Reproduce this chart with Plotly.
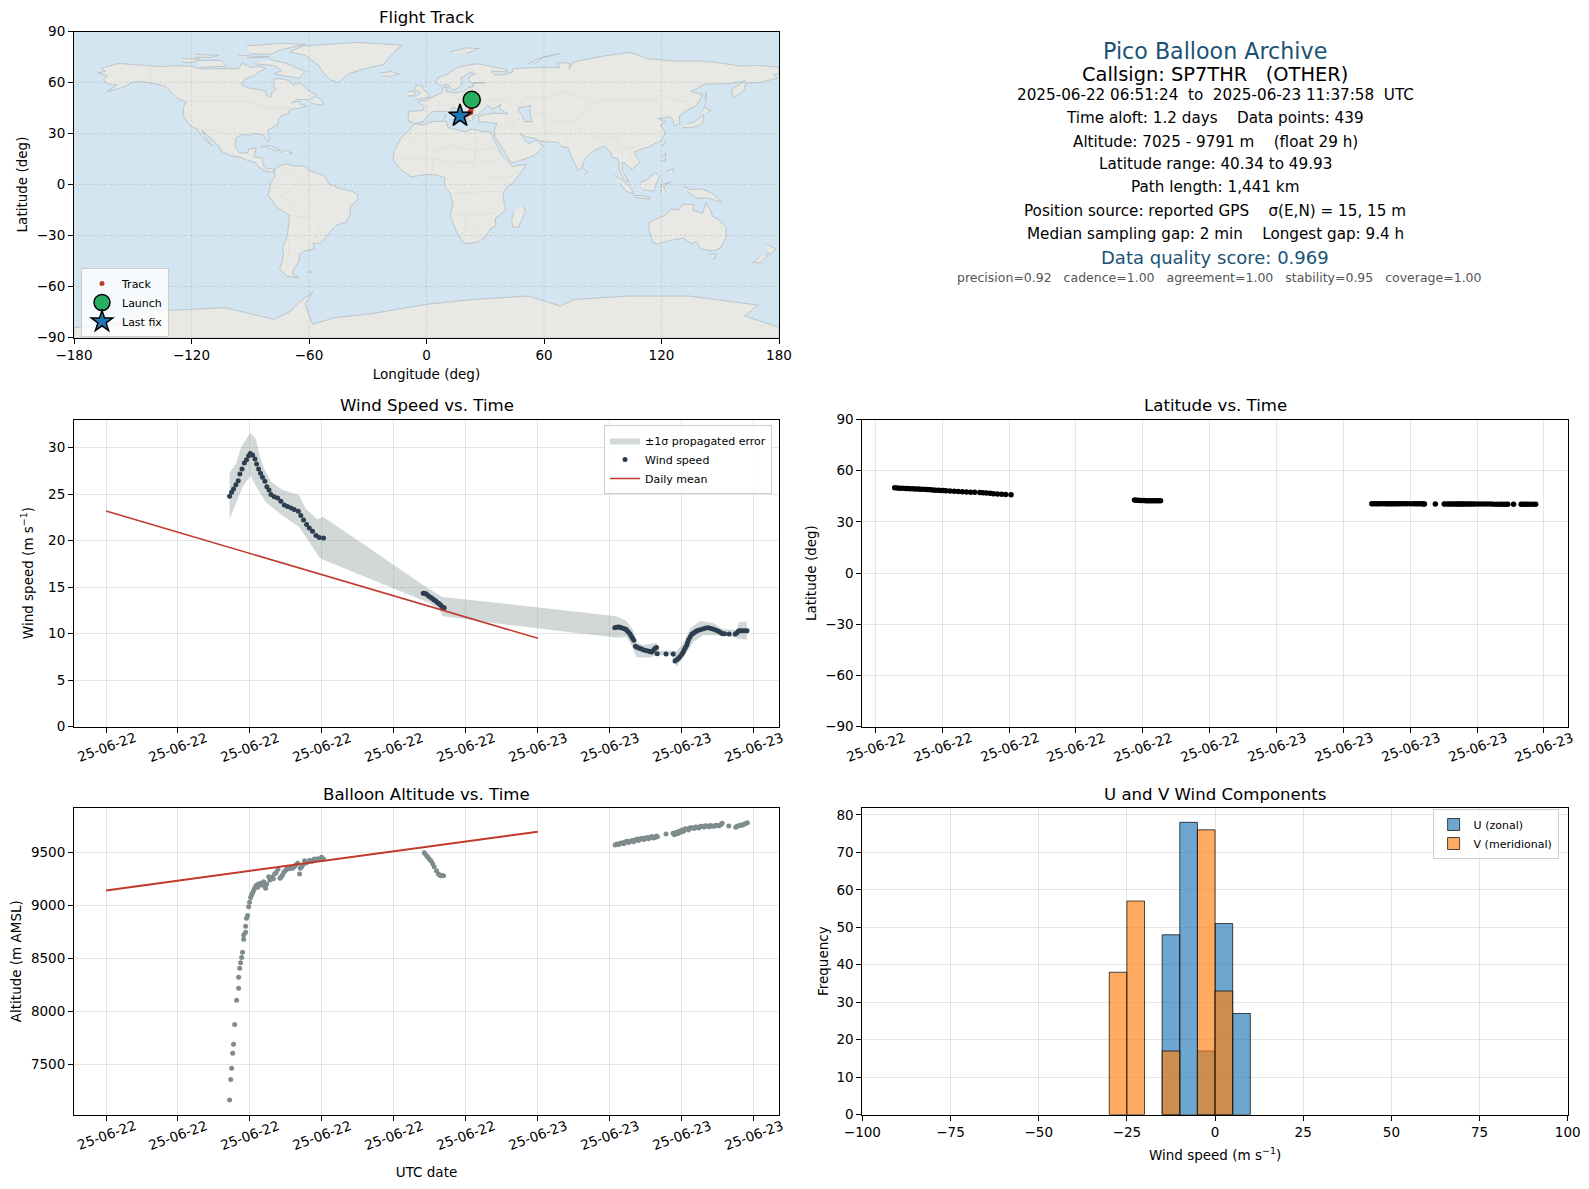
import pandas as pd
import plotly.graph_objects as go

W = 1589
H = 1189
FONT = "DejaVu Sans"
START = pd.Timestamp("2025-06-22")

# times are hours after 2025-06-22 00:00 UTC
wind_hours = [6.87, 6.98, 7.09, 7.22, 7.35, 7.44, 7.56, 7.69, 7.81, 7.93, 8.02, 8.15, 8.28, 8.37, 8.48, 8.59, 8.70, 8.83, 8.94, 9.06, 9.17, 9.35, 9.54, 9.72, 9.91, 10.09, 10.28, 10.46, 10.69, 10.83, 10.98, 11.15, 11.30, 11.48, 11.67, 11.85, 12.09,
              17.63, 17.70, 17.78, 17.87, 17.96, 18.06, 18.15, 18.24, 18.33, 18.42, 18.52, 18.61, 18.70, 18.80,
              28.28, 28.37, 28.47, 28.56, 28.65, 28.77, 28.89, 28.96, 29.04, 29.12, 29.19, 29.27, 29.34, 29.43, 29.52, 29.62, 29.74, 29.86, 30.0, 30.14, 30.24, 30.33, 30.42, 30.51, 30.6, 30.64, 31.13, 31.53, 31.63, 31.72, 31.81, 31.9, 32.0, 32.07, 32.13, 32.2, 32.28, 32.33, 32.39, 32.47, 32.56, 32.65, 32.74, 32.83, 32.93, 33.07, 33.21, 33.35, 33.49, 33.63, 33.77, 33.91, 34.05, 34.16, 34.27, 34.38, 34.64, 34.98, 35.07, 35.16, 35.25, 35.35, 35.49, 35.63]
wind_speed = [24.78, 25.2, 25.56, 26.03, 26.46, 27.17, 27.71, 28.35, 28.71, 29.14, 29.39, 29.21, 28.78, 28.25, 27.71, 27.25, 26.82, 26.39, 25.81, 25.46, 24.96, 24.74, 24.6, 24.24, 23.85, 23.67, 23.52, 23.35, 23.17, 22.7, 22.24, 21.74, 21.38, 21.02, 20.55, 20.34, 20.30,
              14.36, 14.33, 14.29, 14.16, 14.01, 13.9, 13.76, 13.63, 13.5, 13.36, 13.22, 13.05, 12.86, 12.8,
              10.64, 10.7, 10.72, 10.68, 10.64, 10.56, 10.47, 10.33, 10.18, 9.98, 9.75, 9.5, 9.28, 8.64, 8.55, 8.46, 8.37, 8.28, 8.2, 8.14, 8.08, 8.03, 8.2, 8.39, 8.5, 7.85, 7.82, 7.82, 7.07, 7.18, 7.32, 7.52, 7.75, 7.98, 8.21, 8.47, 8.75, 9.05, 9.36, 9.65, 9.93, 10.05, 10.18, 10.28, 10.36, 10.45, 10.54, 10.6, 10.64, 10.55, 10.47, 10.36, 10.25, 10.12, 10.0, 9.98, 9.96, 9.96, 10.1, 10.29, 10.3, 10.32, 10.32, 10.32]
latitude = [49.93, 49.9, 49.75, 49.7, 49.6, 49.55, 49.45, 49.4, 49.3, 49.25, 49.15, 49.1, 49.0, 48.95, 48.8, 48.75, 48.6, 48.55, 48.4, 48.35, 48.25, 48.1, 48.0, 47.85, 47.7, 47.55, 47.4, 47.3, 47.15, 47.0, 46.85, 46.7, 46.55, 46.4, 46.25, 46.1, 45.95,
            42.8, 42.7, 42.6, 42.55, 42.5, 42.5, 42.45, 42.45, 42.4, 42.4, 42.4, 42.4, 42.4, 42.4,
            40.66, 40.66, 40.65, 40.65, 40.64, 40.64, 40.63, 40.63, 40.62, 40.62, 40.61, 40.61, 40.6, 40.6, 40.59, 40.59, 40.58, 40.58, 40.57, 40.57, 40.56, 40.56, 40.55, 40.55, 40.54, 40.54, 40.52, 40.5, 40.5, 40.5, 40.49, 40.49, 40.48, 40.48, 40.47, 40.47, 40.46, 40.46, 40.45, 40.45, 40.44, 40.44, 40.43, 40.43, 40.42, 40.42, 40.41, 40.41, 40.4, 40.4, 40.39, 40.39, 40.38, 40.38, 40.37, 40.37, 40.36, 40.36, 40.35, 40.35, 40.35, 40.34, 40.34, 40.34]

band_upper_hours = [6.87, 7.22, 7.5, 7.78, 8.02, 8.33, 8.52, 8.80, 9.17, 9.81, 10.74, 11.11, 11.76, 12.07, 17.96, 18.70, 21.85, 28.37, 28.93, 29.30, 29.49, 29.86, 30.6, 30.7, 31.72, 32.09, 32.47, 33.02, 33.77, 34.23, 35.07, 35.16, 35.63]
band_upper = [27.35, 28.25, 30.04, 30.93, 31.61, 30.93, 29.32, 27.71, 26.35, 25.49, 24.85, 23.42, 22.27, 22.59, 14.8, 13.94, 13.29, 11.86, 11.36, 10.36, 9.1, 8.75, 9.03, 8.2, 8.14, 8.93, 10.54, 11.36, 11.14, 10.54, 10.36, 11.22, 11.32]
band_lower_hours = [35.63, 35.16, 34.88, 33.95, 33.2, 32.65, 32.28, 31.72, 31.53, 31.44, 30.6, 30.23, 29.49, 29.21, 28.93, 28.37, 21.86, 18.70, 18.52, 17.96, 12.04, 11.85, 11.30, 10.74, 9.81, 8.89, 8.43, 8.02, 7.59, 7.22, 6.87]
band_lower = [9.36, 9.46, 9.64, 9.82, 9.82, 9.1, 8.03, 6.42, 7.14, 7.67, 7.67, 7.42, 7.5, 8.75, 9.64, 9.57, 11.07, 11.9, 12.68, 13.29, 17.98, 18.23, 19.84, 21.45, 22.7, 24.13, 25.56, 26.99, 25.74, 23.95, 22.34]

mean_hours = [0, 24]
mean_speed = [23.2, 9.5]
mean_altitude = [9140, 9695]

alt_hours = [6.87, 6.93, 6.98, 7.04, 7.09, 7.15, 7.26, 7.37, 7.37, 7.43, 7.48, 7.54, 7.59, 7.65, 7.65, 7.76, 7.76, 7.81, 7.87, 7.93, 7.98, 8.04, 8.09, 8.15, 8.20, 8.26, 8.33, 8.38, 8.43, 8.48, 8.55, 8.61, 8.70, 8.76, 8.87, 8.93, 9.04, 9.11, 9.22, 9.30, 9.37, 9.46, 9.56, 9.67, 9.74, 9.81, 9.88, 9.96, 10.04, 10.11, 10.19, 10.28, 10.37, 10.46, 10.55, 10.65, 10.76, 10.80, 10.87, 10.93, 11.04, 11.12, 11.20, 11.33, 11.45, 11.57, 11.76, 11.88, 11.98, 12.09,
             17.69, 17.78, 17.87, 17.96, 18.06, 18.15, 18.24, 18.37, 18.48, 18.55, 18.61, 18.68, 18.76,
             28.3, 28.4, 28.5, 28.58, 28.7, 28.78, 28.86, 28.95, 29.05, 29.14, 29.25, 29.33, 29.42, 29.52, 29.6, 29.69, 29.8, 29.9, 29.97, 30.08, 30.16, 30.25, 30.35, 30.43, 30.52, 30.6, 30.65, 31.13, 31.52, 31.6, 31.7, 31.78, 31.87, 31.95, 32.02, 32.1, 32.2, 32.3, 32.38, 32.47, 32.57, 32.68, 32.77, 32.85, 32.95, 33.05, 33.13, 33.25, 33.33, 33.41, 33.52, 33.6, 33.69, 33.8, 33.9, 33.97, 34.08, 34.18, 34.25, 34.62, 35.0, 35.08, 35.18, 35.27, 35.37, 35.46, 35.55, 35.65]
altitude = [7164, 7358, 7462, 7604, 7689, 7877, 8104, 8217, 8321, 8406, 8459, 8509, 8557, 8679, 8720, 8745, 8802, 8877, 8903, 8987, 9028, 9075, 9097, 9119, 9138, 9160, 9182, 9190, 9170, 9201, 9195, 9208, 9189, 9223, 9160, 9201, 9270, 9239, 9264, 9250, 9296, 9310, 9340, 9255, 9270, 9286, 9310, 9327, 9340, 9349, 9345, 9355, 9350, 9365, 9380, 9396, 9296, 9349, 9365, 9381, 9421, 9400, 9409, 9425, 9415, 9437, 9440, 9435, 9453, 9437,
            9497, 9478, 9459, 9440, 9421, 9395, 9365, 9327, 9296, 9285, 9280, 9282, 9280,
            9569, 9578, 9575, 9585, 9590, 9582, 9597, 9605, 9592, 9604, 9612, 9600, 9616, 9625, 9612, 9626, 9632, 9622, 9632, 9640, 9628, 9642, 9650, 9635, 9640, 9655, 9648, 9673, 9679, 9665, 9689, 9675, 9700, 9690, 9711, 9700, 9722, 9720, 9710, 9732, 9733, 9725, 9738, 9736, 9730, 9745, 9745, 9740, 9750, 9748, 9742, 9752, 9748, 9745, 9755, 9752, 9750, 9762, 9774, 9748, 9736, 9745, 9750, 9758, 9756, 9764, 9772, 9780]

track_lon = [23.1, 23.0, 22.9, 22.8, 22.7, 22.6, 22.0, 21.0, 20.0, 19.0, 18.0, 17.1]
track_lat = [49.9, 48.0, 46.0, 45.0, 43.5, 42.4, 42.0, 41.5, 41.0, 40.7, 40.5, 40.4]

hist_bin_width = 5
u_bins = [-12.5, -7.5, -2.5, 2.5, 7.5]
u_counts = [48, 78, 17, 51, 27]
v_bins = [-27.5, -22.5, -12.5, -2.5, 2.5]
v_counts = [38, 57, 17, 76, 33]

wind_tick_hours = [0, 4, 8, 12, 16, 20, 24, 28, 32, 36]
lat_tick_hours = [6, 9, 12, 15, 18, 21, 24, 27, 30, 33, 36]
map_lon_ticks = [-180, -120, -60, 0, 60, 120, 180]
map_lat_ticks = [-90, -60, -30, 0, 30, 60, 90]

info_lines = [
    ("Pico Balloon Archive", 22.2, "#1a5276", 1215, 51),
    ("Callsign: SP7THR   (OTHER)", 19.4, "black", 1215, 74),
    ("2025-06-22 06:51:24  to  2025-06-23 11:37:58  UTC", 15.2, "black", 1215, 95),
    ("Time aloft: 1.2 days    Data points: 439", 15.2, "black", 1215, 118),
    ("Altitude: 7025 - 9791 m    (float 29 h)", 15.2, "black", 1215, 141.5),
    ("Latitude range: 40.34 to 49.93", 15.2, "black", 1215, 163.5),
    ("Path length: 1,441 km", 15.2, "black", 1215, 187),
    ("Position source: reported GPS    \u03c3(E,N) = 15, 15 m", 15.2, "black", 1215, 210.5),
    ("Median sampling gap: 2 min    Longest gap: 9.4 h", 15.2, "black", 1215, 233.5),
    ("Data quality score: 0.969", 18, "#1a5276", 1215, 257.4),
    ("precision=0.92   cadence=1.00   agreement=1.00   stability=0.95   coverage=1.00", 12.5, "#555555", 1219, 277.7),
]

# rough coastlines, (lon, lat)
north_america = [(-168, 65.6), (-164, 66.5), (-166, 68.3), (-163, 69.5), (-157, 71.2), (-150, 70.5), (-141, 69.7), (-135, 69.3), (-128, 70), (-120, 69.5), (-115, 68), (-108, 68), (-100, 68), (-96, 68.2), (-94, 71.5), (-90, 69), (-85, 69.5), (-82, 68), (-86, 66.2), (-88, 64), (-93, 62), (-94.5, 59), (-92, 57), (-85, 55.3), (-82, 55), (-82, 52.8), (-79.5, 51.3), (-79, 54), (-77, 56), (-78, 58.5), (-78, 62.3), (-73, 62), (-70, 61), (-68, 58.5), (-65, 60), (-62, 57.5), (-60, 55), (-56, 52.5), (-60, 50), (-66, 50), (-69, 48), (-65, 49), (-64.5, 47.5), (-61, 46), (-66, 44.5), (-67, 45), (-70, 43.5), (-70.5, 41.7), (-74, 40.5), (-75.5, 38), (-76, 35), (-78, 34), (-81, 32), (-80.3, 27), (-80.5, 25.2), (-82, 26.5), (-83, 29), (-85, 29.7), (-89, 30), (-90, 29), (-94, 29.5), (-97.3, 27.5), (-97.7, 22.5), (-95.5, 18.7), (-91.5, 18.5), (-90.5, 21), (-87, 21.5), (-88, 16), (-84, 15.8), (-83.5, 11.5), (-81.5, 9), (-79.5, 9.5), (-77.5, 8.7), (-78.2, 7.5), (-80.5, 7.3), (-83, 8.3), (-85.5, 10), (-87.5, 13), (-92, 14.5), (-95, 16), (-100, 17), (-105, 19.5), (-105.5, 22), (-109, 25.7), (-112.5, 30), (-114.7, 31.5), (-112.5, 27), (-109.5, 23), (-112, 25), (-115, 28.5), (-117, 32.5), (-120.5, 34.5), (-122.5, 37.5), (-124.3, 40.5), (-124, 46), (-122.7, 48.5), (-127, 50.5), (-130.5, 54.5), (-133, 57.5), (-138, 59), (-146, 60.8), (-151, 60), (-153, 58), (-158, 56), (-163, 54.8), (-158, 58.5), (-162, 59), (-165, 61.5), (-163, 64), (-168, 65.6)]
south_america = [(-77.5, 8.7), (-75, 11), (-72, 12), (-68, 11), (-62, 10.7), (-60, 8.5), (-52, 5), (-50, 0.5), (-44, -2.5), (-38, -4), (-35, -6), (-35, -9), (-39, -13), (-39, -18), (-41, -22), (-46, -24), (-48.5, -27), (-52, -32), (-54, -34.5), (-58, -34.5), (-57, -38), (-62, -39), (-65, -41), (-65, -45), (-68, -50), (-68.5, -52.5), (-65, -55), (-71, -54), (-75, -50), (-73, -42), (-73.5, -37), (-71, -30), (-70, -18), (-76, -14), (-81, -6), (-80, -2), (-80, 1), (-77.5, 4), (-77.5, 8.7)]
africa = [(-6, 35.8), (-2, 35), (3, 37), (10, 37.3), (11, 33.5), (15, 32.3), (20, 31), (23, 32.7), (29, 31), (32.5, 31.2), (34, 28), (34, 27), (37, 21), (38, 18), (43, 12), (44, 10.5), (51, 12), (49, 8), (45, 2), (40, -3), (39, -7), (40.5, -15), (35, -20), (35.5, -24), (32.8, -26), (30, -31), (26, -34), (20, -34.8), (18, -33), (15, -27), (12, -18), (13.5, -12), (12, -5), (9, -1), (9.5, 4), (5, 5.5), (1, 6), (-4, 5), (-8, 4.5), (-13, 8.5), (-17, 14.7), (-16.5, 20), (-13, 27.5), (-9.5, 31), (-6, 35.8)]
eurasia = [(-9, 37), (-9.5, 39), (-9, 43), (-2, 43.5), (-1, 46), (-4.5, 48.5), (-1, 49.5), (2, 51), (4, 52), (8, 54), (8.5, 57), (10.5, 57.5), (10, 54.5), (14, 54), (19, 54.5), (21, 57), (24, 57.5), (23.5, 59.3), (30, 60), (23, 60), (21.5, 61), (21.5, 63), (25, 65), (22, 65.8), (17.5, 62.5), (18.5, 60), (16.5, 57), (14, 55.5), (12.7, 56), (11, 59), (7, 58), (5, 60), (5.5, 62.5), (11, 65), (15, 68.5), (20, 70), (26, 71), (31, 70), (41, 67.5), (41, 66.3), (33, 66.7), (35, 64.3), (40, 64.7), (44, 66.3), (44, 68.2), (54, 68.5), (60, 69), (68, 68.7), (67, 71.5), (73, 71.5), (73, 68), (75, 72), (81, 73.5), (90, 75.5), (104, 77.7), (113, 74), (128, 72.5), (140, 72.7), (150, 71.5), (160, 69.7), (170, 70), (180, 69), (180, 65), (177, 64.5), (179, 62.5), (170, 60), (163, 59.7), (162, 55), (156.5, 51), (155.7, 56), (163, 61), (155, 59.3), (142, 59), (135, 54.7), (141, 53), (138, 46.5), (132, 43), (129, 40), (129.5, 36), (126.5, 34.5), (126, 37.5), (124.5, 40), (121, 39), (118, 39), (122, 37), (119.5, 35), (122, 30.5), (120, 26), (114, 22.3), (110, 21), (106, 19), (109, 13), (105, 9), (103, 11), (100, 13.5), (100, 8), (103.5, 1.5), (101, 3), (98.5, 8), (98, 15), (95, 16), (94, 19), (91, 22.5), (87, 21), (82, 16.5), (80, 13), (79.5, 10), (77.5, 8), (73, 19), (72.5, 21.5), (69, 22.3), (67, 25), (61, 25), (57, 26), (56, 27), (51, 28), (48, 30), (50, 26.5), (52, 24), (56, 26), (59.8, 22.5), (55, 17), (45, 13), (43, 13), (39, 21), (35, 28), (34.5, 31.5), (36, 36), (30, 36.5), (27, 37), (26.5, 40), (29, 41), (35, 42), (41.5, 41.5), (37, 45), (38, 47), (34, 44.5), (31, 46.5), (28, 43), (26, 40.7), (24, 40.5), (23.5, 38), (22, 37), (19.5, 41), (19, 42.5), (13.5, 45.5), (12.5, 44), (18.5, 40.2), (16, 38), (15.8, 40), (10.5, 43), (6, 43), (3, 43), (0, 39.5), (-2, 36.8), (-5.5, 36), (-9, 37)]
australia = [(114, -22), (113.5, -26), (115.5, -34), (118, -35), (124, -33), (131, -31.5), (135.5, -34.8), (138, -33.5), (140, -38), (146.5, -39), (150, -37.5), (153, -31), (153, -25), (149, -20.5), (146, -18.5), (145, -15), (142.5, -11), (141, -17), (136, -15), (136.5, -12), (131, -11.5), (129, -15), (125, -14.5), (122, -18), (114, -22)]
antarctica = [(-180, -84.2), (-155, -82), (-145, -76), (-140.5, -74.4), (-119, -73.4), (-103, -72.4), (-78, -79.3), (-70, -75), (-65.4, -69.5), (-58, -63.3), (-62, -70), (-58.3, -82.2), (-46.6, -78.3), (-28, -76), (0, -70.5), (24, -67.6), (52, -65.6), (68.5, -71.5), (75.5, -67.6), (103.7, -65.6), (134, -65.6), (169.5, -71), (162.4, -77.3), (180, -84), (180, -90), (-180, -90), (-180, -84.2)]
greenland = [(-70, 78), (-63, 81.5), (-50, 82.5), (-35, 83.6), (-12.6, 82), (-18, 76), (-22, 70.5), (-32, 68), (-40, 65), (-45, 60), (-49, 61.5), (-53, 66), (-55, 70), (-62, 76), (-70, 78)]
islands = [
    [(-80, 73.5), (-72, 71.5), (-67, 69), (-62, 66.5), (-65, 62.5), (-72, 64), (-78, 65), (-74, 67), (-78, 70), (-88, 71)],
    [(-117, 73), (-105, 73), (-102, 69.5), (-115, 69)],
    [(-125, 74), (-116, 74), (-120, 71.5), (-125, 72)],
    [(-90, 77), (-80, 76.5), (-75, 79), (-62, 82.5), (-75, 83), (-92, 81.5)],
    [(-96, 76), (-80, 75), (-92, 74.5)],
    [(-118, 76.5), (-106, 76), (-110, 74.8), (-118, 75)],
    [(-59, 47.7), (-53, 46.7), (-53, 49), (-56, 51.5)],
    [(-85, 22), (-80, 23), (-74.2, 20.2), (-78, 20), (-82, 22.2)],
    [(-74.3, 18.5), (-72, 20), (-68.5, 18.5), (-71, 18)],
    [(-24, 65.5), (-18, 66.5), (-14, 65), (-18.5, 63.5), (-22.5, 64)],
    [(-5.5, 50), (1.5, 51.3), (1.5, 53), (-2, 56), (-2, 57.7), (-5, 58.5), (-6, 56), (-3, 54), (-5, 52)],
    [(-10, 52), (-6, 52.2), (-6, 55), (-10, 54.5)],
    [(12, 78), (20, 80.3), (27, 80), (20, 77)],
    [(52, 71), (57, 74), (68, 77), (60, 75), (55, 71)],
    [(49.5, -12), (50.5, -16), (47, -25), (44, -25), (43.5, -21), (44.5, -16)],
    [(80, 9.5), (82, 7), (80.5, 6)],
    [(130.8, 33.5), (135.5, 33.5), (140, 35), (141.5, 38), (141.5, 41), (140, 40), (137, 37), (133, 35.5)],
    [(140, 42), (142, 45.5), (145, 43.5), (143, 42)],
    [(142, 46), (143, 50), (142.7, 54), (142, 50)],
    [(120.5, 22.5), (122, 25), (121, 25)],
    [(120.5, 16), (122, 18.5), (122, 14), (120.5, 14)],
    [(122, 7.5), (126, 9.5), (126, 6.5)],
    [(109, 1), (113, 3), (117, 7), (119, 5), (117.5, 1), (116, -4), (110.5, -3)],
    [(95.5, 5.5), (100, 2.5), (104, -1.5), (106, -5.8), (102, -4), (98.5, 1)],
    [(105.5, -6.5), (110, -6.5), (114.5, -7.7), (114, -8.7), (106, -7.5)],
    [(119.5, -5.5), (120, 0), (124.5, 1.3), (121, -1), (122.5, -5)],
    [(131, -1), (135, -3), (141, -2.6), (147, -6), (150.5, -10.5), (144, -8), (138, -8), (133, -4)],
    [(144.5, -41), (148, -41), (147, -43.5), (146, -43.5)],
    [(173, -35), (178.5, -37.7), (175, -41.5), (174, -39)],
    [(172.7, -40.7), (174, -42), (170.5, -46), (166.5, -46), (170, -43)],
    [(9, 41), (9.7, 41), (9.5, 39), (8.5, 39)],
    [(12.5, 38), (15.5, 38), (15, 36.7)],
    [(-61, -51.5), (-58, -51.5), (-59, -52.3)],
]
caspian = [(47, 45), (53, 46.5), (53, 40), (54, 37), (50, 37), (49, 40.5), (47, 43), (47, 45)]
borders = [
    [(-123, 49), (-95, 49), (-88, 48), (-82, 45), (-75, 45), (-67, 45)],
    [(-141, 69.7), (-141, 60)],
    [(-117, 32.5), (-106, 31.7), (-97.3, 26)],
    [(-92, 14.5), (-91, 17.5), (-88, 18)],
    [(-70, -18), (-69, -11), (-74, -7), (-70, -4), (-67, 1), (-60, 5), (-60, 8)],
    [(-70, -18), (-58, -20), (-54, -26), (-57, -30), (-54, -33)],
    [(-71, -30), (-70, -40), (-72, -50)],
    [(-80, -3), (-75, -1), (-70, -4)],
    [(-75, 11), (-72, 7), (-67, 6)],
    [(-13, 27.5), (-8, 27), (3, 19), (12, 23), (25, 20), (36, 22)],
    [(25, 32), (25, 20), (24, 10), (30, 4), (34, 4), (42, 4), (48, 8)],
    [(-16, 16), (-5, 15), (3, 15), (14, 13), (24, 13), (36, 14), (38, 18)],
    [(3, 6), (3, 15)],
    [(9, 4), (14, 13)],
    [(12, -5), (22, -5), (30, -4), (40, -4)],
    [(12, -17), (24, -18), (35, -17)],
    [(20, -28), (20, -18)],
    [(30, -22), (25, -25), (18, -29)],
    [(28, 49), (40, 50), (48, 46), (50, 51), (61, 51), (70, 55), (80, 51), (87, 49), (98, 50), (107, 50), (117, 50), (120, 53), (127, 50), (135, 48), (131, 43)],
    [(53, 41), (60, 42), (66, 37), (75, 37), (80, 42), (87, 49)],
    [(75, 37), (78, 32), (88, 27), (97, 28), (98, 23), (102, 21), (107, 22)],
    [(62, 25), (61, 30), (61, 36), (66, 37)],
    [(71, 24), (74, 32), (75, 37)],
    [(88, 27), (92, 22)],
    [(44, 37), (46, 33), (48, 30)],
    [(36, 33), (42, 37), (44, 37), (48, 39)],
    [(37, 30), (46, 29), (48, 29)],
    [(98, 23), (100, 20), (100, 13)],
    [(102, 21), (105, 15), (107, 11)],
    [(24, 58), (28, 56), (24, 51), (30, 46)],
    [(14, 54), (15, 51), (23, 49), (28, 46), (28, 43)],
    [(6, 49), (8, 47.5), (13, 47), (17, 48), (23, 49)],
    [(-2, 43.5), (3, 43)],
    [(2, 51), (6, 49), (7, 44)],
    [(20, 69), (24, 66), (30, 62), (30, 60)],
]


def to_time(hours):
    return START + pd.to_timedelta(hours, unit="h")


def x_dom(left, right):
    return [left / W, right / W]


def y_dom(top, bottom):
    return [1 - bottom / H, 1 - top / H]


def outline_xy(shapes):
    xs = []
    ys = []
    for shape in shapes:
        for lon, lat in shape:
            xs.append(lon)
            ys.append(lat)
        xs.append(None)
        ys.append(None)
    return xs, ys


fig = go.Figure()

# flight track panel
land_x, land_y = outline_xy([north_america, south_america, africa, eurasia, australia, antarctica, greenland] + islands)
fig.add_trace(go.Scatter(x=land_x, y=land_y, mode="lines", fill="toself", fillcolor="#e8e8e4",
                         line=dict(color="#b4bcc2", width=0.8), showlegend=False, hoverinfo="skip", xaxis="x", yaxis="y"))
sea_x, sea_y = outline_xy([caspian])
fig.add_trace(go.Scatter(x=sea_x, y=sea_y, mode="lines", fill="toself", fillcolor="#d2e5f1",
                         line=dict(color="#b4bcc2", width=0.8), showlegend=False, hoverinfo="skip", xaxis="x", yaxis="y"))
border_x, border_y = outline_xy(borders)
fig.add_trace(go.Scatter(x=border_x, y=border_y, mode="lines", line=dict(color="#dcdcd8", width=0.7),
                         showlegend=False, hoverinfo="skip", xaxis="x", yaxis="y"))
# grid sits over the land here
grid_x = []
grid_y = []
for lon in map_lon_ticks[1:-1]:
    grid_x += [lon, lon, None]
    grid_y += [map_lat_ticks[0], map_lat_ticks[-1], None]
for lat in map_lat_ticks[1:-1]:
    grid_x += [map_lon_ticks[0], map_lon_ticks[-1], None]
    grid_y += [lat, lat, None]
fig.add_trace(go.Scatter(x=grid_x, y=grid_y, mode="lines", line=dict(color="rgba(120,120,120,0.22)", width=0.8, dash="3px,2px"),
                         showlegend=False, hoverinfo="skip", xaxis="x", yaxis="y"))
fig.add_trace(go.Scatter(x=track_lon, y=track_lat, mode="markers", name="Track", marker=dict(color="#c0392b", size=5),
                         legend="legend", xaxis="x", yaxis="y"))
fig.add_trace(go.Scatter(x=track_lon[:1], y=track_lat[:1], mode="markers", name="Launch",
                         marker=dict(color="#27ae60", size=17, line=dict(color="black", width=1.5)), legend="legend", xaxis="x", yaxis="y"))
fig.add_trace(go.Scatter(x=track_lon[-1:], y=track_lat[-1:], mode="markers", name="Last fix",
                         marker=dict(color="#1f77b4", size=17, symbol="star", line=dict(color="black", width=1.5)), legend="legend", xaxis="x", yaxis="y"))

# wind speed panel
band_hours = band_upper_hours + band_lower_hours
fig.add_trace(go.Scatter(x=to_time(band_hours), y=band_upper + band_lower, mode="lines", fill="toself",
                         fillcolor="rgba(127,140,141,0.35)", line=dict(width=0), name="\u00b11\u03c3 propagated error",
                         legend="legend2", xaxis="x2", yaxis="y2", hoverinfo="skip"))
fig.add_trace(go.Scatter(x=to_time(wind_hours), y=wind_speed, mode="markers", name="Wind speed",
                         marker=dict(color="#2c3e50", size=5), legend="legend2", xaxis="x2", yaxis="y2"))
fig.add_trace(go.Scatter(x=to_time(mean_hours), y=mean_speed, mode="lines", name="Daily mean",
                         line=dict(color="#c0392b", width=1.5), legend="legend2", xaxis="x2", yaxis="y2"))

# latitude panel
fig.add_trace(go.Scatter(x=to_time(wind_hours), y=latitude, mode="markers", marker=dict(color="black", size=5.5),
                         showlegend=False, xaxis="x3", yaxis="y3"))

# altitude panel
fig.add_trace(go.Scatter(x=to_time(alt_hours), y=altitude, mode="markers", marker=dict(color="#7f8c8d", size=5),
                         showlegend=False, xaxis="x4", yaxis="y4"))
fig.add_trace(go.Scatter(x=to_time(mean_hours), y=mean_altitude, mode="lines", line=dict(color="#c0392b", width=2),
                         showlegend=False, xaxis="x4", yaxis="y4"))

# histogram panel
fig.add_trace(go.Bar(x=u_bins, y=u_counts, width=hist_bin_width, name="U (zonal)", marker=dict(color="rgba(31,119,180,0.65)", line=dict(color="rgba(0,0,0,0.7)", width=1)),
                     legend="legend3", xaxis="x5", yaxis="y5"))
fig.add_trace(go.Bar(x=v_bins, y=v_counts, width=hist_bin_width, name="V (meridional)", marker=dict(color="rgba(255,127,14,0.65)", line=dict(color="rgba(0,0,0,0.7)", width=1)),
                     legend="legend3", xaxis="x5", yaxis="y5"))

base_axis = dict(showline=True, mirror=True, linecolor="black", linewidth=1, ticks="outside", ticklen=5, tickcolor="black",
                 showgrid=True, gridcolor="rgba(128,128,128,0.2)", gridwidth=1, zeroline=False,
                 tickfont=dict(size=13.5, family=FONT, color="black"), automargin=False)


def axis_title(text, standoff):
    return dict(text=text, font=dict(size=13.5, family=FONT, color="black"), standoff=standoff)


def legend_box(x, y, xanchor):
    return dict(x=x / W, y=1 - y / H, xanchor=xanchor, yanchor="top", bgcolor="rgba(255,255,255,0.8)", bordercolor="#cccccc",
                borderwidth=1, font=dict(size=11, family=FONT), tracegroupgap=0)


wind_range = [to_time(-1.78), to_time(37.41)]
lat_range = [to_time(5.42), to_time(37.07)]
time_axis = dict(base_axis, type="date", showticklabels=False)

fig.update_layout(
    width=W, height=H, margin=dict(l=0, r=0, t=0, b=0), paper_bgcolor="white", plot_bgcolor="white",
    font=dict(family=FONT, color="black", size=13), barmode="overlay", hovermode="closest",
    xaxis=dict(base_axis, domain=x_dom(74, 779), range=[-180, 180], tickvals=map_lon_ticks, showgrid=False, title=axis_title("Longitude (deg)", 7), anchor="y"),
    yaxis=dict(base_axis, domain=y_dom(31.5, 337.5), range=[-90, 90], tickvals=map_lat_ticks, showgrid=False, title=axis_title("Latitude (deg)", 6), anchor="x"),
    xaxis2=dict(time_axis, domain=x_dom(74, 779), range=wind_range, tickvals=to_time(wind_tick_hours), anchor="y2"),
    yaxis2=dict(base_axis, domain=y_dom(419.5, 726.6), range=[0, 33.04], tickvals=[0, 5, 10, 15, 20, 25, 30], title=axis_title("Wind speed (m s<sup>\u22121</sup>)", 11), anchor="x2"),
    xaxis3=dict(time_axis, domain=x_dom(862.4, 1567.7), range=lat_range, tickvals=to_time(lat_tick_hours), anchor="y3"),
    yaxis3=dict(base_axis, domain=y_dom(419.5, 726.6), range=[-90, 90], tickvals=map_lat_ticks, title=axis_title("Latitude (deg)", 5), anchor="x3"),
    xaxis4=dict(time_axis, domain=x_dom(74, 779), range=wind_range, tickvals=to_time(wind_tick_hours), title=axis_title("UTC date", 47), anchor="y4"),
    yaxis4=dict(base_axis, domain=y_dom(807.7, 1114.7), range=[7025, 9921], tickvals=[7500, 8000, 8500, 9000, 9500], title=axis_title("Altitude (m AMSL)", 6), anchor="x4"),
    xaxis5=dict(base_axis, domain=x_dom(862.4, 1567.7), range=[-100, 100], tickvals=[-100, -75, -50, -25, 0, 25, 50, 75, 100], title=axis_title("Wind speed (m s<sup>\u22121</sup>)", 11), anchor="y5"),
    yaxis5=dict(base_axis, domain=y_dom(807.7, 1114.7), range=[0, 81.9], tickvals=[0, 10, 20, 30, 40, 50, 60, 70, 80], title=axis_title("Frequency", 4), anchor="x5"),
    legend=legend_box(81, 268, "left"),
    legend2=legend_box(772, 425, "right"),
    legend3=legend_box(1558.6, 809, "right"),
    # ocean behind the land polygons
    shapes=[dict(type="rect", xref="x domain", yref="y domain", x0=0, x1=1, y0=0, y1=1, layer="below", fillcolor="#d2e5f1", line=dict(width=0))],
)

# subplot titles
for text, cx, cy in [("Flight Track", 426.7, 17.5), ("Wind Speed vs. Time", 426.7, 405.5), ("Latitude vs. Time", 1215, 405.5),
                     ("Balloon Altitude vs. Time", 426.7, 794.5), ("U and V Wind Components", 1215, 794.5)]:
    fig.add_annotation(text=text, x=cx / W, y=1 - cy / H, xref="paper", yref="paper", xanchor="center", yanchor="middle",
                       showarrow=False, font=dict(size=16.6, family=FONT, color="black"))

# info block
for text, size, color, cx, cy in info_lines:
    fig.add_annotation(text=text, x=cx / W, y=1 - cy / H, xref="paper", yref="paper", xanchor="center", yanchor="middle",
                       showarrow=False, font=dict(size=size, family=FONT, color=color))

# date labels are centred on their ticks, which plotly's own angled labels are not
for xref, yref, hours in [("x2", "y2", wind_tick_hours), ("x3", "y3", lat_tick_hours), ("x4", "y4", wind_tick_hours)]:
    for h in hours:
        t = to_time(h)
        fig.add_annotation(text=t.strftime("%y-%m-%d"), x=t, y=0, xref=xref, yref=yref + " domain", yshift=-20, textangle=-20,
                           showarrow=False, xanchor="center", yanchor="middle", font=dict(size=13.5, family=FONT, color="black"))

fig.write_html("out.html", config=dict(displayModeBar=False), post_script="document.body.style.margin='0';")
